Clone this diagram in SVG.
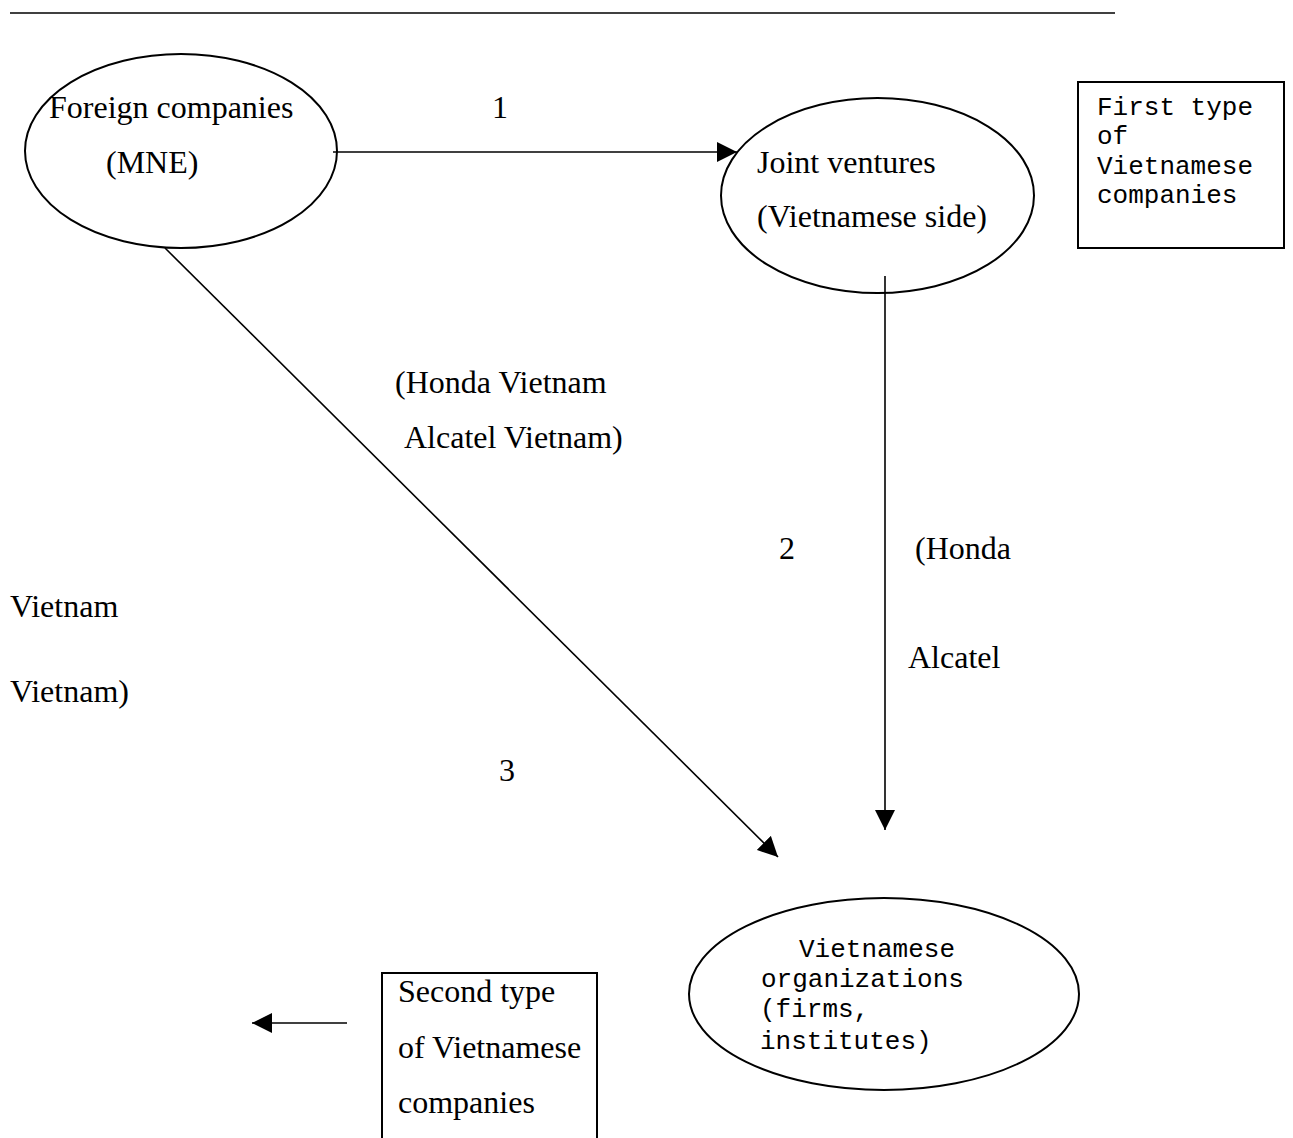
<svg xmlns="http://www.w3.org/2000/svg" width="1293" height="1138" viewBox="0 0 1293 1138">
<style>
.serif{font-family:"Liberation Serif","Times New Roman",serif;font-size:32px;fill:#000}
.mono{font-family:"Liberation Mono","Courier New",monospace;font-size:26px;fill:#000}
.shape{fill:#fff;stroke:#000;stroke-width:2}
.conn{fill:none;stroke:#000;stroke-width:1.6}
</style>
<defs>
<marker id="arrow" markerUnits="userSpaceOnUse" markerWidth="20" markerHeight="20" refX="20" refY="10" orient="auto" viewBox="0 0 20 20">
<path d="M0,0 L20,10 L0,20 z" fill="#000"/>
</marker>
</defs>
<rect width="1293" height="1138" fill="#fff"/>
<line x1="10" y1="13" x2="1115" y2="13" stroke="#000" stroke-width="1.5"/>
<g id="foreign-companies">
<ellipse class="shape" cx="181" cy="151" rx="156" ry="97"/>
<text class="serif" x="49" y="118">Foreign companies</text>
<text class="serif" x="106" y="173">(MNE)</text>
</g>
<g id="joint-ventures">
<ellipse class="shape" cx="877.5" cy="195.5" rx="156.5" ry="97.5"/>
<text class="serif" x="757" y="173">Joint ventures</text>
<text class="serif" x="757" y="227">(Vietnamese side)</text>
</g>
<g id="first-type">
<rect class="shape" x="1078" y="82" width="206" height="166"/>
<text class="mono" x="1097" y="115">First type</text>
<text class="mono" x="1097" y="144">of</text>
<text class="mono" x="1097" y="174">Vietnamese</text>
<text class="mono" x="1097" y="203">companies</text>
</g>
<g id="vietnamese-organizations">
<ellipse class="shape" cx="884" cy="994" rx="195" ry="96"/>
<text class="mono" x="799" y="957">Vietnamese</text>
<text class="mono" x="761" y="987">organizations</text>
<text class="mono" x="760" y="1017">(firms,</text>
<text class="mono" x="760" y="1049">institutes)</text>
</g>
<g id="second-type">
<path class="shape" d="M382,1139 V973 H597 V1139"/>
<text class="serif" x="398" y="1002">Second type</text>
<text class="serif" x="398" y="1058">of Vietnamese</text>
<text class="serif" x="398" y="1113">companies</text>
</g>
<g id="connectors">
<line class="conn" x1="333" y1="152" x2="737" y2="152" marker-end="url(#arrow)"/>
<line class="conn" x1="165" y1="248" x2="778" y2="857" marker-end="url(#arrow)"/>
<line class="conn" x1="885" y1="276" x2="885" y2="830" marker-end="url(#arrow)"/>
<line class="conn" x1="347" y1="1023" x2="252" y2="1023" marker-end="url(#arrow)"/>
</g>
<g id="labels">
<text class="serif" x="492" y="118">1</text>
<text class="serif" x="395" y="393">(Honda Vietnam</text>
<text class="serif" x="404" y="448">Alcatel Vietnam)</text>
<text class="serif" x="779" y="559">2</text>
<text class="serif" x="915" y="559">(Honda</text>
<text class="serif" x="908" y="668">Alcatel</text>
<text class="serif" x="10" y="617">Vietnam</text>
<text class="serif" x="10" y="702">Vietnam)</text>
<text class="serif" x="499" y="781">3</text>
</g>
</svg>
